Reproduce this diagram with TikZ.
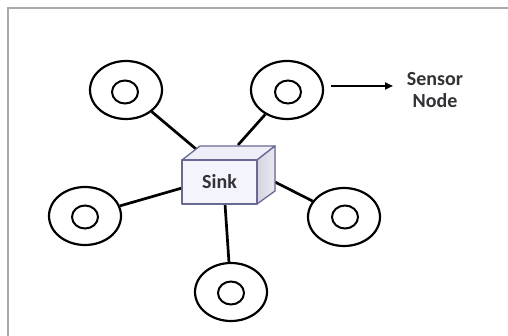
\documentclass[tikz,border=0pt]{standalone}
\usepackage{fontspec}
\setmainfont{Carlito}
\usetikzlibrary{shapes.geometric,arrows.meta,calc}
\definecolor{framegray}{RGB}{172,168,172}
\definecolor{labelgray}{RGB}{50,50,55}
\definecolor{boxedge}{RGB}{105,105,150}
\definecolor{boxfront}{RGB}{244,244,252}
\definecolor{boxtop}{RGB}{238,238,248}
\definecolor{boxside}{RGB}{212,212,222}
\tikzset{
  outerring/.style={ellipse, draw=black, line width=2.2pt, minimum width=72pt, minimum height=58pt, inner sep=0pt},
  innerring/.style={ellipse, draw=black, line width=2pt, minimum width=26pt, minimum height=23pt, inner sep=0pt},
  link/.style={draw=black, line width=2.7pt},
  lbl/.style={font=\bfseries\fontsize{20}{22}\selectfont, text=labelgray, align=center, inner sep=0pt},
  boxface/.style={draw=boxedge, line width=1.3pt, line join=round}
}
\begin{document}
\begin{tikzpicture}[x=1pt,y=-1pt]
  \useasboundingbox (0,0) rectangle (508,336);
  \fill[white] (0,0) rectangle (508,336);
  % frame edges
  \draw[framegray, line width=2pt] (8,336) -- (8,8) -- (508,8);

  % sensor nodes
  \node[outerring] (tl) at (126,90) {};
  \node[innerring] at (125,92) {};
  \node[outerring] (tr) at (287,90) {};
  \node[innerring] at (288,92) {};
  \node[outerring] (lf) at (85,216) {};
  \node[innerring] at (85,217) {};
  \node[outerring] (rt) at (344,217) {};
  \node[innerring] at (345,217) {};
  \node[outerring] (bt) at (231,292) {};
  \node[innerring] at (231,293) {};

  % attachment points on the sink box
  \coordinate (aTL) at (196,149);
  \coordinate (aTR) at (238,145);
  \coordinate (aLF) at (182,188);
  \coordinate (aRT) at (275,182);
  \coordinate (aBT) at (225,204);

  % links to the sink
  \draw[link] (tl) -- (aTL);
  \draw[link] (tr) -- (aTR);
  \draw[link] (lf) -- (aLF);
  \draw[link] (rt) -- (aRT);
  \draw[link] (bt) -- (aBT);

  % sink box (front, top, side faces)
  \filldraw[boxface, fill=boxtop] (182,160) -- (257,160) -- (275,146) -- (200,146) -- cycle;
  \filldraw[boxface, left color=boxside, right color=boxtop!80!boxside] (257,160) -- (275,146) -- (275,191) -- (257,204) -- cycle;
  \node[boxface, fill=boxfront, rectangle, minimum width=75pt, minimum height=44pt, inner sep=0pt] (sink) at (219.5,182) {};
  \node[lbl] at (sink.center) {Sink};

  % legend
  \node[lbl] (legend) at (435,90) {Sensor\\Node};
  \coordinate (arrS) at ($(tr.east)+(7,-4)$);
  \coordinate (arrE) at (393,86);
  \draw[black, line width=2pt, -{Triangle[length=8pt,width=7pt]}] (arrS) -- (arrE);
\end{tikzpicture}
\end{document}
